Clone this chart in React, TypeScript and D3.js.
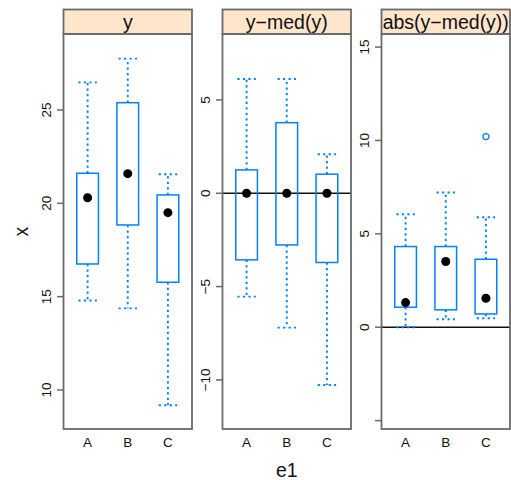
import React from "react";
import * as d3 from "d3";

const categories = ["A", "B", "C"];
const panelTitles = ["y", "y\u2212med(y)", "abs(y\u2212med(y))"];

// [lower whisker, Q1, median, Q3, upper whisker] per category
const yStats = [
  [14.79, 16.75, 20.3, 21.61, 26.48],
  [14.37, 18.84, 21.59, 25.39, 27.75],
  [9.18, 15.77, 19.5, 20.45, 21.56],
];
const devStats = [
  [-5.54, -3.57, 0, 1.25, 6.12],
  [-7.2, -2.77, 0, 3.78, 6.12],
  [-10.27, -3.71, 0, 1.02, 2.09],
];
const absStats = [
  [0.0, 1.07, 1.32, 4.32, 6.05],
  [0.43, 0.93, 3.52, 4.32, 7.21],
  [0.48, 0.71, 1.55, 3.64, 5.89],
];
const yOutliers: number[][] = [[], [], []];
const devOutliers: number[][] = [[], [], []];
const absOutliers: number[][] = [[], [], [10.21]];

const yDomain = [7.91, 29.07];
const devDomain = [-12.63, 8.53];
const absDomain = [-5.45, 15.7];

const yTicks = [10, 15, 20, 25];
const devTicks = [-10, -5, 0, 5];
const absTicks = [-5, 0, 5, 10, 15];
const yTickLabels = [10, 15, 20, 25];
const devTickLabels = [-10, -5, 0, 5];
const absTickLabels = [0, 5, 10, 15];

const refLines = [false, true, true];

const panels = [
  { title: panelTitles[0], stats: yStats, outliers: yOutliers, domain: yDomain, ticks: yTicks, labels: yTickLabels, ref: refLines[0] },
  { title: panelTitles[1], stats: devStats, outliers: devOutliers, domain: devDomain, ticks: devTicks, labels: devTickLabels, ref: refLines[1] },
  { title: panelTitles[2], stats: absStats, outliers: absOutliers, domain: absDomain, ticks: absTicks, labels: absTickLabels, ref: refLines[2] },
];

const W = 511;
const H = 480;
const panelLefts = [63.5, 222.5, 381.5];
const panelW = 128.5;
const stripTop = 9.5;
const stripBottom = 34;
const plotBottom = 429;
const BLUE = "#0080ff";
const BORDER = "#6a6a6a";
const FONT = "'Liberation Sans', Arial, Helvetica, sans-serif";

const fmt = (v: number) => (v < 0 ? "\u2212" + Math.abs(v) : String(v));

function Panel({ p, left }: { p: any; left: number }) {
  const x = d3.scaleLinear().domain([0.4, categories.length + 0.6]).range([left, left + panelW]);
  const y = d3.scaleLinear().domain(p.domain).range([plotBottom, stripBottom]);
  const unit = x(2) - x(1);
  const boxW = unit * 0.54;
  const capW = boxW * 0.85;
  const clipId = "clip" + Math.round(left);
  const dash = "2.2,3.3";
  return (
    <g>
      <defs>
        <clipPath id={clipId}>
          <rect x={left} y={stripBottom} width={panelW} height={plotBottom - stripBottom} />
        </clipPath>
      </defs>
      <rect x={left} y={stripTop} width={panelW} height={stripBottom - stripTop} fill="#ffe5cc" stroke={BORDER} strokeWidth={1.8} />
      <text x={left + panelW / 2} y={29} textAnchor="middle" fontSize={19.5} fontFamily={FONT} fill="#111">
        {p.title}
      </text>
      {p.ticks.map((t: number) => (
        <line key={"t" + t} x1={left - 6.5} x2={left} y1={y(t)} y2={y(t)} stroke={BORDER} strokeWidth={1.5} />
      ))}
      {p.labels.map((t: number) => (
        <text
          key={"l" + t}
          transform={`translate(${left - 13},${y(t)}) rotate(-90)`}
          textAnchor="middle"
          fontSize={13.5}
          fontFamily={FONT}
          fill="#111"
        >
          {fmt(t)}
        </text>
      ))}
      {categories.map((c, i) => (
        <text key={c} x={x(i + 1)} y={447} textAnchor="middle" fontSize={13.5} fontFamily={FONT} fill="#111">
          {c}
        </text>
      ))}
      <g clipPath={`url(#${clipId})`}>
        {p.ref && <line x1={left} x2={left + panelW} y1={y(0)} y2={y(0)} stroke="#111" strokeWidth={1.6} />}
        {p.stats.map((s: number[], i: number) => {
          const cx = x(i + 1);
          return (
            <g key={i}>
              <line x1={cx} x2={cx} y1={y(s[3])} y2={y(s[4])} stroke={BLUE} strokeWidth={1.9} strokeDasharray={dash} />
              <line x1={cx} x2={cx} y1={y(s[1])} y2={y(s[0])} stroke={BLUE} strokeWidth={1.9} strokeDasharray={dash} />
              <line x1={cx - capW / 2} x2={cx + capW / 2} y1={y(s[4])} y2={y(s[4])} stroke={BLUE} strokeWidth={1.9} strokeDasharray={dash} />
              <line x1={cx - capW / 2} x2={cx + capW / 2} y1={y(s[0])} y2={y(s[0])} stroke={BLUE} strokeWidth={1.9} strokeDasharray={dash} />
              <rect x={cx - boxW / 2} y={y(s[3])} width={boxW} height={y(s[1]) - y(s[3])} fill="none" stroke={BLUE} strokeWidth={1.5} />
              <circle cx={cx} cy={y(s[2])} r={4.5} fill="#000" />
              {p.outliers[i].map((o: number, j: number) => (
                <circle key={j} cx={cx} cy={y(o)} r={3} fill="none" stroke={BLUE} strokeWidth={1.3} />
              ))}
            </g>
          );
        })}
      </g>
      <rect x={left} y={stripBottom} width={panelW} height={plotBottom - stripBottom} fill="none" stroke={BORDER} strokeWidth={1.8} />
    </g>
  );
}

export default function App() {
  return (
    <svg width={W} height={H} style={{ position: "absolute", left: 0, top: 0, background: "#fff" }}>
      <rect x={0} y={0} width={W} height={H} fill="#fff" />
      {panels.map((p, i) => (
        <Panel key={i} p={p} left={panelLefts[i]} />
      ))}
      <text x={(panelLefts[0] + panelLefts[2] + panelW) / 2} y={477} textAnchor="middle" fontSize={19.5} fontFamily={FONT} fill="#111">
        e1
      </text>
      <text transform={`translate(28,${(stripBottom + plotBottom) / 2}) rotate(-90)`} textAnchor="middle" fontSize={19.5} fontFamily={FONT} fill="#111">
        x
      </text>
    </svg>
  );
}
